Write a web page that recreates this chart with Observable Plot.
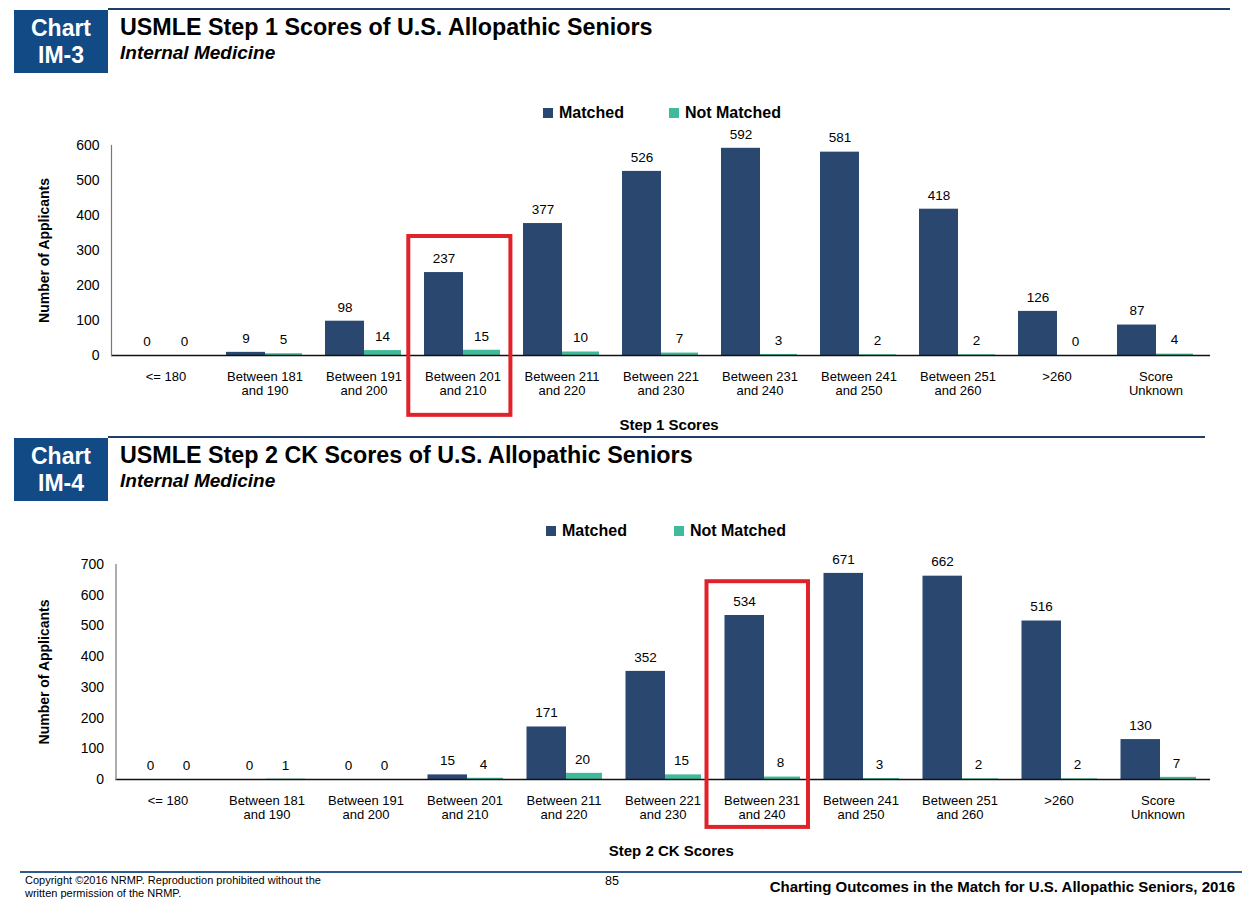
<!DOCTYPE html>
<html><head><meta charset="utf-8">
<script src="https://cdn.jsdelivr.net/npm/d3@7"></script>
<script src="https://cdn.jsdelivr.net/npm/@observablehq/plot@0.6"></script>
<style>
body{margin:0;width:1250px;height:918px;position:relative;background:#fff;font-family:"Liberation Sans",Arial,sans-serif;overflow:hidden;color:#000}
.abs{position:absolute}
.badge{background:#124a85;color:#fff;font-weight:bold;font-size:23px;line-height:27px;text-align:center;box-sizing:border-box;padding-top:5px}
.title{font-weight:bold;font-size:23.3px;white-space:nowrap;line-height:26px}
.sub{font-weight:bold;font-style:italic;font-size:19px;white-space:nowrap;line-height:22px}
.hline{background:#1f3f66;height:2px}
.legend{font-weight:bold;font-size:16px;white-space:nowrap;display:flex;align-items:center;line-height:18px}
.sw{display:inline-block;width:10px;height:10px;margin-right:6px}
.chart{left:0;width:1250px}
</style></head><body>
<div id="root"></div>
<script>
// ---- data ----
const categories = ["<= 180","Between 181 and 190","Between 191 and 200","Between 201 and 210","Between 211 and 220","Between 221 and 230","Between 231 and 240","Between 241 and 250","Between 251 and 260",">260","Score Unknown"];
const seriesNames = ["Matched","Not Matched"];
const step1Matched = [0,9,98,237,377,526,592,581,418,126,87];
const step1NotMatched = [0,5,14,15,10,7,3,2,2,0,4];
const step2Matched = [0,0,0,15,171,352,534,671,662,516,130];
const step2NotMatched = [0,1,0,4,20,15,8,3,2,2,7];
const step1Ticks = [0,100,200,300,400,500,600];
const step2Ticks = [0,100,200,300,400,500,600,700];
const step1Highlight = ["Between 201 and 210"];
const step2Highlight = ["Between 231 and 240"];

const colors = ["#2a4770","#3fbb9b"];
const font = "'Liberation Sans', Arial, sans-serif";

function el(cls, style, html){const d=document.createElement("div");d.className=cls;Object.assign(d.style,style);if(html!=null)d.innerHTML=html;document.body.appendChild(d);return d;}

function header(top, badgeText, title, sub, lineRight){
  el("abs hline",{left:"108px",top:(top-1)+"px",width:(lineRight-108)+"px"});
  el("abs badge",{left:"14px",top:(top+1)+"px",width:"94px",height:"63px"}, badgeText);
  el("abs title",{left:"120px",top:(top+5)+"px"}, title);
  el("abs sub",{left:"120px",top:(top+33)+"px"}, sub);
}
function legend(top, left, gap){
  const d = el("abs legend",{left:left+"px",top:top+"px"});
  seriesNames.forEach((n,i)=>{
    const s=document.createElement("span");s.style.display="inline-flex";s.style.alignItems="center";if(i>0)s.style.marginLeft=gap+"px";
    s.innerHTML=`<span class="sw" style="background:${colors[i]}"></span>${n}`;
    d.appendChild(s);
  });
}

function chart(o){
  const rows = categories.map((c,i)=>({category:c, matched:o.matched[i], notMatched:o.notMatched[i]}));
  const p = Plot.plot({
    width:1250, height:o.height,
    marginLeft:o.marginLeft, marginRight:40, marginTop:o.marginTop, marginBottom:o.marginBottom,
    style:{fontFamily:font, fontSize:"13px", color:"#000", background:"transparent", overflow:"visible"},
    x:{type:"band", domain:categories, padding:0, label:null, axis:null},
    y:{domain:[0,o.ticks[o.ticks.length-1]], label:null, axis:null},
    marks:[
      Plot.barY(rows,{x:"category", y:"notMatched", fill:colors[1], insetLeft:o.nmInset[0], insetRight:o.nmInset[1]}),
      Plot.barY(rows,{x:"category", y:"matched", fill:colors[0], insetLeft:o.mInset[0], insetRight:o.mInset[1]}),
      Plot.ruleY([0],{stroke:"#111", strokeWidth:1.5}),
      Plot.frame({anchor:"left", stroke:"#777", strokeWidth:1.2}),
      Plot.text(rows,{x:"category", y:"matched", text:d=>String(d.matched), dx:o.mDx, dy:-14, fontSize:13.5, fill:"#000"}),
      Plot.text(rows,{x:"category", y:"notMatched", text:d=>String(d.notMatched), dx:o.nmDx, dy:-14, fontSize:13.5, fill:"#000"}),
      Plot.axisY({ticks:o.ticks, tickSize:0, tickPadding:12, fontSize:14, label:null}),
      Plot.axisX({tickSize:0, tickPadding:15, fontSize:13, lineHeight:1.1, label:null, tickFormat:d=>d.replace(" and ","\nand ").replace("Score ","Score\n")}),
      Plot.text([o.xLabel],{frameAnchor:"bottom", dy:o.xLabelDy, dx:8, fontWeight:"bold", fontSize:15, fill:"#000"}),
      Plot.text(["Number of Applicants"],{frameAnchor:"left", textAnchor:"middle", rotate:-90, dx:o.yLabelDx, fontWeight:"bold", fontSize:14, fill:"#000"}),
      Plot.barY(o.highlight,{x:d=>d, y1:o.box[0], y2:o.box[1], fill:"none", stroke:"#e0232a", strokeWidth:4, insetLeft:o.boxInset[0], insetRight:o.boxInset[1]})
    ]
  });
  p.classList.add("abs","chart");
  p.style.top = o.top+"px";
  document.body.appendChild(p);
}

// ---- chart IM-3 ----
header(9, "Chart<br>IM-3", "USMLE Step 1 Scores of U.S. Allopathic Seniors", "Internal Medicine", 1230);
legend(104, 543, 45);
chart({top:125, height:310, marginTop:20, marginBottom:80, marginLeft:111,
  matched:step1Matched, notMatched:step1NotMatched, ticks:step1Ticks,
  mInset:[11,49], nmInset:[49,12], mDx:-19, nmDx:18.5,
  xLabel:"Step 1 Scores", xLabelDy:74, yLabelDx:-67,
  highlight:step1Highlight, box:[340,-171], boxInset:[-4.7,1.6]});

// ---- chart IM-4 ----
header(437, "Chart<br>IM-4", "USMLE Step 2 CK Scores of U.S. Allopathic Seniors", "Internal Medicine", 1205);
legend(522, 546, 47);
chart({top:540, height:325, marginTop:24, marginBottom:86, marginLeft:115.5,
  matched:step2Matched, notMatched:step2NotMatched, ticks:step2Ticks,
  mInset:[12.5,47], nmInset:[49,11], mDx:-17.5, nmDx:18.5,
  xLabel:"Step 2 CK Scores", xLabelDy:76, yLabelDx:-71.5,
  highlight:step2Highlight, box:[644,-156], boxInset:[-5.5,3]});

// ---- footer ----
el("abs",{left:"20px",top:"871px",width:"1222px",height:"2px",background:"#2e5b8c"});
el("abs",{left:"25px",top:"874px",fontSize:"11px",lineHeight:"13px",whiteSpace:"nowrap"},"Copyright ©2016 NRMP. Reproduction prohibited without the<br>written permission of the NRMP.");
el("abs",{left:"605px",top:"874px",fontSize:"12.5px",whiteSpace:"nowrap"},"85");
el("abs",{right:"15px",top:"878px",fontSize:"15px",fontWeight:"bold",whiteSpace:"nowrap"},"Charting Outcomes in the Match for U.S. Allopathic Seniors, 2016");
</script>
</body></html>
